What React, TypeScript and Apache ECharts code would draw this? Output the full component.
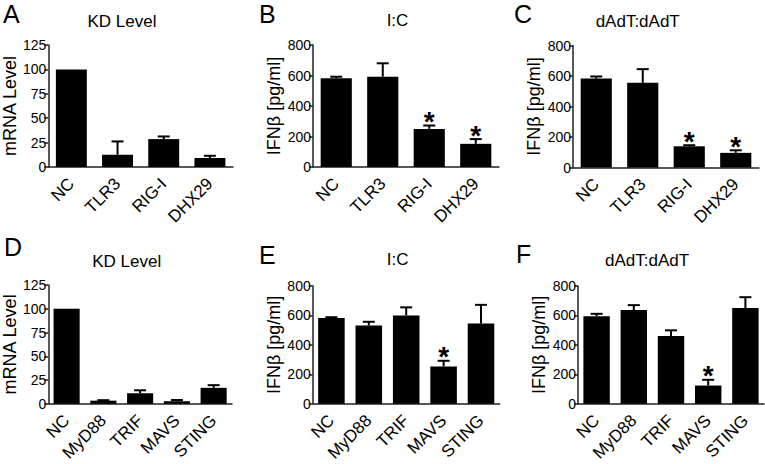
import React, { useEffect, useRef } from "react";
import * as echarts from "echarts";

const FONT = "'Liberation Sans', Arial, Helvetica, sans-serif";

// Categories
const catsTop = ["NC", "TLR3", "RIG-I", "DHX29"];
const catsBottom = ["NC", "MyD88", "TRIF", "MAVS", "STING"];

// Panel A: KD Level (mRNA level)
const kdTopMean = [100, 12.6, 28.6, 9.2];
const kdTopErr = [0, 13.6, 2.7, 2.3];
// Panel B: I:C (IFNβ pg/ml)
const icTopMean = [582, 592, 250, 152];
const icTopErr = [10, 88, 22, 31];
const icTopSig = [0, 0, 1, 1];
// Panel C: dAdT:dAdT
const dadtTopMean = [583, 556, 139, 96];
const dadtTopErr = [14, 89, 7, 17];
const dadtTopSig = [0, 0, 1, 1];
// Panel D: KD Level
const kdBotMean = [100, 3.3, 11.1, 2.7, 16.8];
const kdBotErr = [0, 0.5, 3.1, 1.3, 2.8];
// Panel E: I:C
const icBotMean = [582, 531, 600, 253, 546];
const icBotErr = [6, 26, 55, 39, 126];
const icBotSig = [0, 0, 0, 1, 0];
// Panel F: dAdT:dAdT
const dadtBotMean = [594, 637, 460, 124, 650];
const dadtBotErr = [17, 33, 39, 39, 74];
const dadtBotSig = [0, 0, 0, 1, 0];

const kdTicks = { max: 125, interval: 25 };
const ifnTicks = { max: 800, interval: 200 };

type Panel = {
  letter: string;
  title: string;
  yName: string;
  cats: string[];
  mean: number[];
  err: number[];
  sig: number[];
  ticks: { max: number; interval: number };
  grid: { left: number; top: number; width: number; height: number };
  letterPos: [number, number];
  titlePos: [number, number];
  nameGap: number;
};

const panels: Panel[] = [
  {
    letter: "A", title: "KD Level", yName: "mRNA Level", cats: catsTop,
    mean: kdTopMean, err: kdTopErr, sig: [0, 0, 0, 0], ticks: kdTicks,
    grid: { left: 47, top: 45, width: 186, height: 122 },
    letterPos: [3, 13.5], titlePos: [122, 21], nameGap: 27,
  },
  {
    letter: "B", title: "I:C", yName: "IFNβ [pg/ml]", cats: catsTop,
    mean: icTopMean, err: icTopErr, sig: icTopSig, ticks: ifnTicks,
    grid: { left: 313, top: 45, width: 186, height: 122 },
    letterPos: [259, 13.5], titlePos: [397.5, 20.5], nameGap: 30,
  },
  {
    letter: "C", title: "dAdT:dAdT", yName: "IFNβ [pg/ml]", cats: catsTop,
    mean: dadtTopMean, err: dadtTopErr, sig: dadtTopSig, ticks: ifnTicks,
    grid: { left: 573, top: 45.5, width: 186, height: 122 },
    letterPos: [514, 13.5], titlePos: [637.7, 21], nameGap: 30,
  },
  {
    letter: "D", title: "KD Level", yName: "mRNA Level", cats: catsBottom,
    mean: kdBotMean, err: kdBotErr, sig: [0, 0, 0, 0, 0], ticks: kdTicks,
    grid: { left: 47, top: 285, width: 185, height: 123.3 },
    letterPos: [4, 247], titlePos: [126.7, 261], nameGap: 27,
  },
  {
    letter: "E", title: "I:C", yName: "IFNβ [pg/ml]", cats: catsBottom,
    mean: icBotMean, err: icBotErr, sig: icBotSig, ticks: ifnTicks,
    grid: { left: 312.7, top: 286, width: 187, height: 123 },
    letterPos: [259, 255.3], titlePos: [397.7, 259], nameGap: 30,
  },
  {
    letter: "F", title: "dAdT:dAdT", yName: "IFNβ [pg/ml]", cats: catsBottom,
    mean: dadtBotMean, err: dadtBotErr, sig: dadtBotSig, ticks: ifnTicks,
    grid: { left: 578, top: 286, width: 186, height: 123 },
    letterPos: [516, 253.7], titlePos: [647, 260], nameGap: 30,
  },
];

function buildOption() {
  const grid: any[] = [];
  const xAxis: any[] = [];
  const yAxis: any[] = [];
  const series: any[] = [];
  const graphic: any[] = [];

  panels.forEach((p, i) => {
    grid.push({ ...p.grid, containLabel: false });
    xAxis.push({
      type: "category",
      gridIndex: i,
      data: p.cats,
      axisTick: { show: false },
      axisLine: { show: true, lineStyle: { color: "#222", width: 1.5 } },
      axisLabel: {
        rotate: 45,
        interval: 0,
        fontSize: 17,
        color: "#000",
        fontFamily: FONT,
        margin: 14,
      },
    });
    yAxis.push({
      type: "value",
      gridIndex: i,
      min: 0,
      max: p.ticks.max,
      interval: p.ticks.interval,
      splitLine: { show: false },
      axisLine: { show: true, lineStyle: { color: "#222", width: 1.5 } },
      axisTick: { show: true, length: 4, lineStyle: { color: "#222", width: 1.5 } },
      axisLabel: { fontSize: 14, color: "#000", fontFamily: FONT, margin: 2 },
      name: p.yName,
      nameLocation: "middle",
      nameRotate: 90,
      nameGap: p.nameGap,
      nameTextStyle: { fontSize: 18, color: "#000", fontFamily: FONT },
    });
    series.push({
      type: "bar",
      xAxisIndex: i,
      yAxisIndex: i,
      data: p.mean,
      barCategoryGap: p.cats.length === 4 ? "33%" : "29%",
      itemStyle: { color: "#000" },
      z: 2,
    });
    series.push({
      type: "custom",
      xAxisIndex: i,
      yAxisIndex: i,
      z: 3,
      data: p.cats.map((_, k) => [k, p.mean[k], p.err[k], p.sig[k]]),
      renderItem: (params: any, api: any) => {
        const x = api.value(0);
        const m = api.value(1);
        const e = api.value(2);
        const s = api.value(3);
        const p0 = api.coord([x, m]);
        const p1 = api.coord([x, m + e]);
        const children: any[] = [];
        if (e > 0) {
          children.push({
            type: "line",
            shape: { x1: p0[0], y1: p0[1], x2: p1[0], y2: p1[1] },
            style: { stroke: "#000", lineWidth: 2 },
          });
          children.push({
            type: "line",
            shape: { x1: p1[0] - 6, y1: p1[1], x2: p1[0] + 6, y2: p1[1] },
            style: { stroke: "#000", lineWidth: 2 },
          });
        }
        if (s) {
          children.push({
            type: "text",
            x: p1[0],
            y: p1[1] - 4,
            style: {
              text: "*",
              fontSize: 28,
              fontWeight: "bold",
              fontFamily: FONT,
              fill: "#000",
              align: "center",
              verticalAlign: "middle",
            },
          });
        }
        return { type: "group", children };
      },
    });
    graphic.push({
      type: "text",
      x: p.letterPos[0],
      y: p.letterPos[1],
      style: {
        text: p.letter,
        fontSize: 25,
        fontFamily: FONT,
        fill: "#000",
        align: "left",
        verticalAlign: "middle",
      },
    });
    graphic.push({
      type: "text",
      x: p.titlePos[0],
      y: p.titlePos[1],
      style: {
        text: p.title,
        fontSize: 17,
        fontFamily: FONT,
        fill: "#000",
        align: "center",
        verticalAlign: "middle",
      },
    });
  });

  return {
    animation: false,
    backgroundColor: "#fff",
    textStyle: { fontFamily: FONT },
    grid,
    xAxis,
    yAxis,
    series,
    graphic,
  };
}

export default function App() {
  const ref = useRef<HTMLDivElement>(null);
  useEffect(() => {
    if (!ref.current) return;
    const chart = echarts.init(ref.current, undefined, { renderer: "svg" });
    chart.setOption(buildOption() as any);
    return () => chart.dispose();
  }, []);
  return (
    <div
      ref={ref}
      style={{ position: "fixed", left: 0, top: 0, width: 765, height: 464, background: "#fff" }}
    />
  );
}
